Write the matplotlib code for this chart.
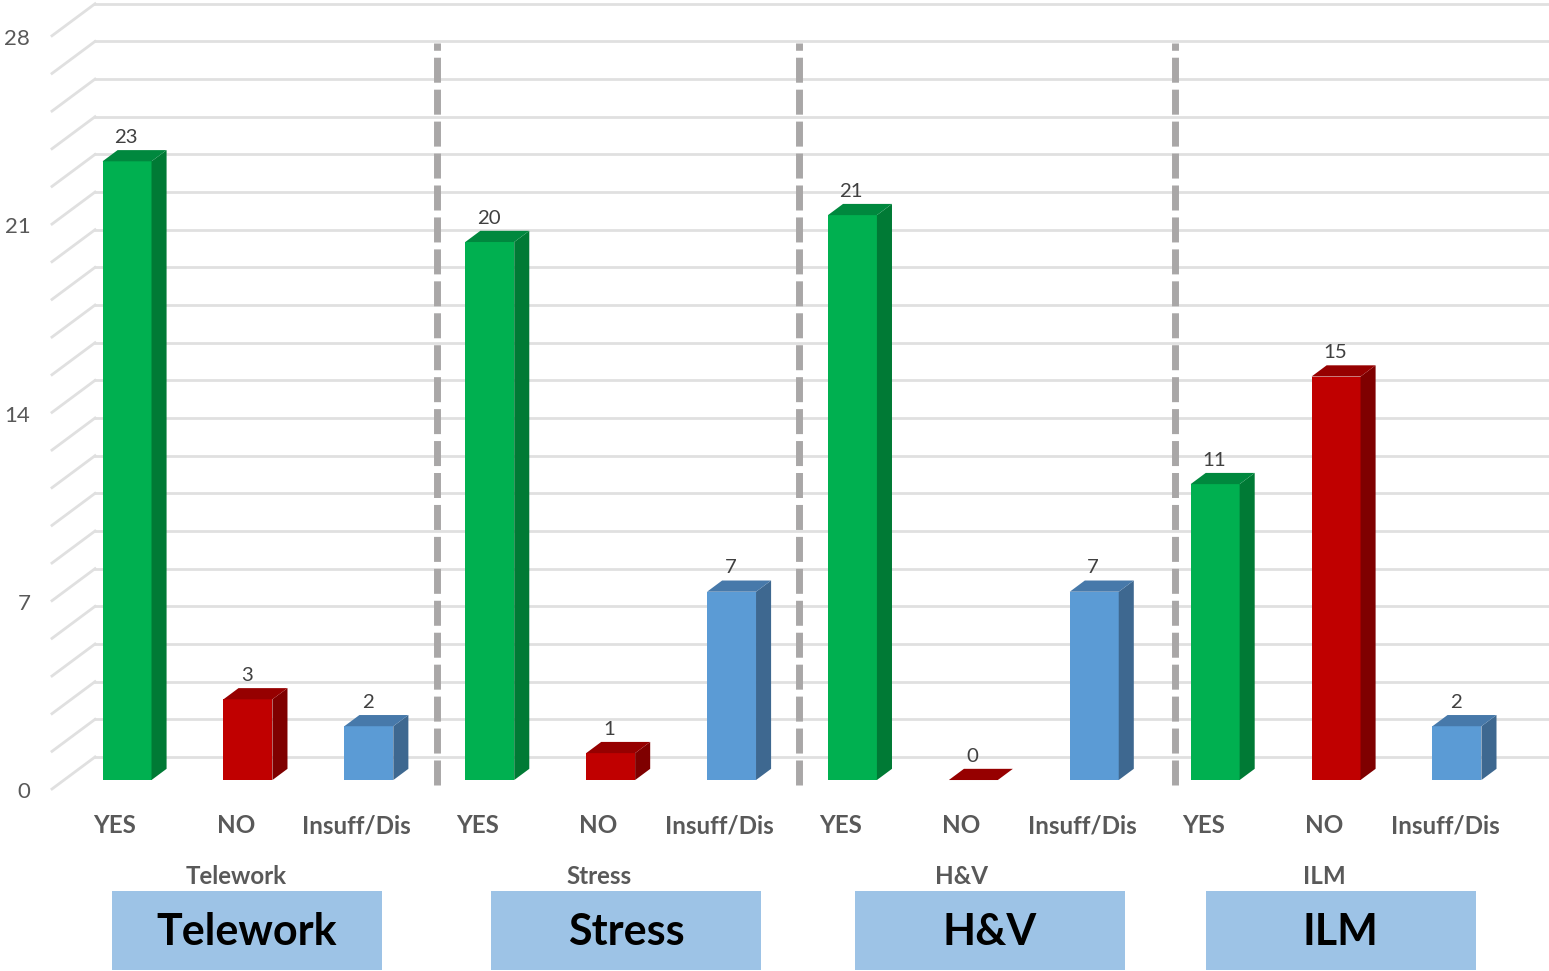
import matplotlib.pyplot as plt
from matplotlib.patches import Polygon, Rectangle

plt.rcParams['font.family'] = ['Lato', 'DejaVu Sans']

# data
groups = ['Telework', 'Stress', 'H&V', 'ILM']
answers = ['YES', 'NO', 'Insuff/Dis']
values = {
    'Telework': [23, 3, 2],
    'Stress': [20, 1, 7],
    'H&V': [21, 0, 7],
    'ILM': [11, 15, 2],
}
y_ticks = [0, 7, 14, 21, 28]

# colours per answer: front, side, top
face_cols = ['#00B050', '#C00000', '#5B9BD5']
side_cols = ['#007A35', '#7F0000', '#3E6890']
top_cols = ['#00883E', '#960000', '#4779AA']

# layout (x in category units, y in value units)
DX, DY = 0.356, 1.19        # full depth of the floor
fb, bd = 0.28, 0.35         # bar front depth and bar depth (fractions)
w = 0.405
ymax = 28
grid_step = 1.4

fig = plt.figure(figsize=(15.49, 9.71), dpi=100)
ax = fig.add_axes([0, 0, 1, 1])
ax.set_xlim(-0.951, 11.861)
ax.set_ylim(-6.766, 29.33)
ax.axis('off')

# back wall grid + left diagonals
wall_x = -0.521
v = 0.0
while v <= ymax + 1e-6:
    ax.plot([wall_x + DX, 11.9], [v + DY, v + DY], color='#E0E0E0', lw=2, zorder=1)
    ax.plot([wall_x, wall_x + DX], [v, v + DY], color='#E0E0E0', lw=2, zorder=1)
    v += grid_step

for t in y_ticks:
    ax.text(-0.70, t - 0.12, str(t), ha='right', va='center', fontsize=16, color='#595959')

# bars
i = 0
for g in groups:
    for k, val in enumerate(values[g]):
        x0 = i + fb * DX - w / 2
        x1 = x0 + w
        yb = fb * DY
        yt = yb + val
        ox, oy = bd * DX, bd * DY
        if val > 0:
            ax.add_patch(Rectangle((x0, yb), w, val, facecolor=face_cols[k], edgecolor='none', zorder=3))
            ax.add_patch(Polygon([(x1, yb), (x1 + ox, yb + oy), (x1 + ox, yt + oy), (x1, yt)],
                                 closed=True, facecolor=side_cols[k], edgecolor='none', zorder=3))
        ax.add_patch(Polygon([(x0, yt), (x1, yt), (x1 + ox, yt + oy), (x0 + ox, yt + oy)],
                             closed=True, facecolor=top_cols[k], edgecolor='none', zorder=3))
        ax.text(i + fb * DX - 0.01, yt + oy + 0.15, str(val), ha='center', va='bottom',
                fontsize=14.7, color='#404040', zorder=4)
        ax.text(i, -1.36, answers[k], ha='center', va='center', fontsize=17.4,
                fontweight='bold', color='#595959')
        i += 1

# group labels and boxes
box_centers = [1.092, 4.227, 7.237, 10.14]
for n, g in enumerate(groups):
    ax.text(3 * n + 1, -3.25, g, ha='center', va='center', fontsize=17.4,
            fontweight='bold', color='#595959')
    bc = box_centers[n]
    ax.add_patch(Rectangle((bc - 1.117, -6.72), 2.234, 2.92, facecolor='#9DC3E6',
                           edgecolor='none', zorder=2))
    ax.text(bc, -5.3, g, ha='center', va='center', fontsize=31, fontweight='bold',
            color='black', zorder=3)

# dashed separators
for sx in [2.66, 5.66, 8.77]:
    ax.plot([sx, sx], [0.15, 27.75], color='#A9A7A7', lw=5, dashes=(3.6, 1.0), zorder=2)

fig.savefig('out.png', dpi=100)
